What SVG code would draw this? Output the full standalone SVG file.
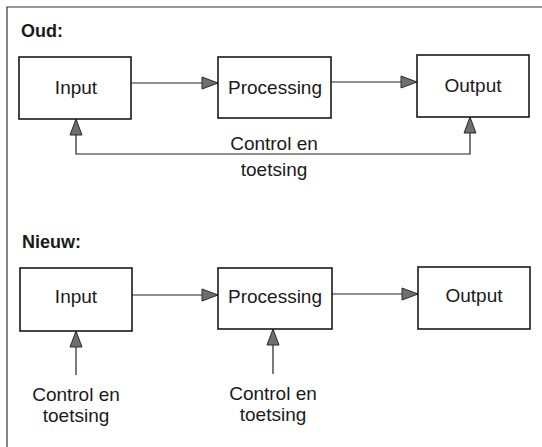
<svg xmlns="http://www.w3.org/2000/svg" width="542" height="447" viewBox="0 0 542 447">
  <style>
    .box { fill: #ffffff; stroke: #1a1a1a; stroke-width: 1.6; }
    .lbl { font-family: "Liberation Sans", Arial, sans-serif; font-size: 19px; fill: #1a1a1a; text-anchor: middle; }
    .head { font-family: "Liberation Sans", Arial, sans-serif; font-size: 18px; font-weight: bold; fill: #1a1a1a; }
    .note { font-family: "Liberation Sans", Arial, sans-serif; font-size: 19px; fill: #1a1a1a; text-anchor: middle; }
    .conn { fill: none; stroke: #222222; stroke-width: 1.2; }
    .frame { fill: none; stroke: #333333; stroke-width: 1.2; }
  </style>
  <defs>
    <marker id="tri" markerUnits="userSpaceOnUse" markerWidth="18" markerHeight="14" viewBox="0 0 18 14" refX="17" refY="7" orient="auto">
      <path d="M1,1 L17,7 L1,13 Z" fill="#6e6e6e" stroke="#2a2a2a" stroke-width="1"/>
    </marker>
  </defs>

  <rect width="542" height="447" fill="#ffffff"/>

  <!-- frame (top and left edges) -->
  <path class="frame" d="M7,447 L7,7 L542,7"/>

  <!-- section headings -->
  <text class="head" x="21" y="37">Oud:</text>
  <text class="head" x="22" y="248">Nieuw:</text>

  <!-- connectors -->
  <g id="connectors">
    <line class="conn" x1="131" y1="83" x2="218" y2="83" marker-end="url(#tri)"/>
    <line class="conn" x1="331" y1="82" x2="417" y2="82" marker-end="url(#tri)"/>
    <path class="conn" d="M274,154 L470,154 L470,117" marker-end="url(#tri)"/>
    <path class="conn" d="M274,154 L76,154 L76,119" marker-end="url(#tri)"/>
    <line class="conn" x1="132" y1="295" x2="218" y2="295" marker-end="url(#tri)"/>
    <line class="conn" x1="332" y1="294" x2="418" y2="294" marker-end="url(#tri)"/>
    <line class="conn" x1="76" y1="375" x2="76" y2="331" marker-end="url(#tri)"/>
    <line class="conn" x1="273" y1="374" x2="273" y2="329" marker-end="url(#tri)"/>
  </g>

  <!-- Oud nodes -->
  <g id="oud-input">
    <rect class="box" x="19" y="57" width="112" height="62"/>
    <text class="lbl" x="76" y="94">Input</text>
  </g>
  <g id="oud-processing">
    <rect class="box" x="218" y="57" width="113" height="61"/>
    <text class="lbl" x="275" y="94">Processing</text>
  </g>
  <g id="oud-output">
    <rect class="box" x="417" y="55" width="112" height="62"/>
    <text class="lbl" x="473" y="92">Output</text>
  </g>
  <g id="oud-control">
    <text class="note" x="274" y="150">Control en</text>
    <text class="note" x="274" y="176">toetsing</text>
  </g>

  <!-- Nieuw nodes -->
  <g id="nieuw-input">
    <rect class="box" x="20" y="268" width="112" height="63"/>
    <text class="lbl" x="76" y="303">Input</text>
  </g>
  <g id="nieuw-processing">
    <rect class="box" x="218" y="268" width="114" height="61"/>
    <text class="lbl" x="275" y="303">Processing</text>
  </g>
  <g id="nieuw-output">
    <rect class="box" x="418" y="267" width="112" height="62"/>
    <text class="lbl" x="474" y="302">Output</text>
  </g>
  <g id="nieuw-control-input">
    <text class="note" x="76" y="401">Control en</text>
    <text class="note" x="76" y="422">toetsing</text>
  </g>
  <g id="nieuw-control-processing">
    <text class="note" x="273" y="400">Control en</text>
    <text class="note" x="273" y="421">toetsing</text>
  </g>
</svg>
